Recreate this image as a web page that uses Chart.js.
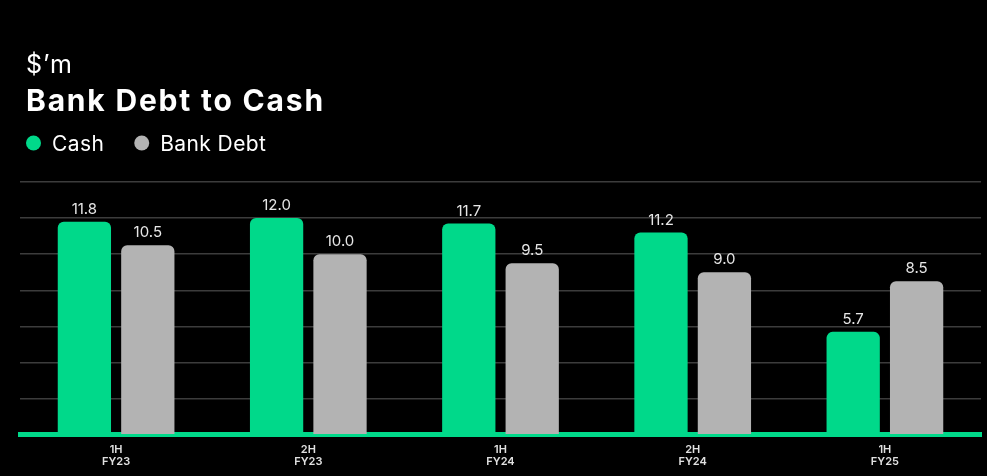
<!DOCTYPE html>
<html>
<head>
<meta charset="utf-8">
<script src="https://cdn.jsdelivr.net/npm/chart.js@4"></script>
<style>
  html, body { margin: 0; padding: 0; background: #000; }
  #wrap { width: 987px; height: 476px; position: relative; }
</style>
</head>
<body>
<div id="wrap"><canvas id="barChart"></canvas></div>
<script>
const unitLabel = '$\u2019m';
const chartTitle = 'Bank Debt to Cash';
const periods = [['1H', 'FY23'], ['2H', 'FY23'], ['1H', 'FY24'], ['2H', 'FY24'], ['1H', 'FY25']];
const cashValues = [11.8, 12.0, 11.7, 11.2, 5.7];
const bankDebtValues = [10.5, 10.0, 9.5, 9.0, 8.5];
const yMin = 0;
const yMax = 14;
const yStep = 2;

const green = '#00d98a';
const grey = '#b3b3b3';
const fontName = "Inter, 'Open Sans', sans-serif";

// draws the value above each bar
const valueLabels = {
    id: 'valueLabels',
    afterDatasetsDraw(chart) {
        const ctx = chart.ctx;
        ctx.save();
        ctx.font = '400 15px ' + fontName;
        ctx.fillStyle = '#e6e6e6';
        ctx.textAlign = 'center';
        ctx.textBaseline = 'bottom';
        chart.data.datasets.forEach((ds, i) => {
            chart.getDatasetMeta(i).data.forEach((bar, j) => {
                ctx.fillText(ds.data[j].toFixed(1), bar.x, bar.y - 5);
            });
        });
        ctx.restore();
    }
};

// unit, title and legend in the top left corner
const headerText = {
    id: 'headerText',
    afterDraw(chart) {
        const ctx = chart.ctx;
        ctx.save();
        ctx.textAlign = 'left';
        ctx.textBaseline = 'alphabetic';
        ctx.fillStyle = '#ffffff';
        ctx.letterSpacing = '1px';
        ctx.font = '400 25px ' + fontName;
        ctx.fillText(unitLabel, 26, 73);
        ctx.letterSpacing = '1.8px';
        ctx.font = '700 30px ' + fontName;
        ctx.fillText(chartTitle, 26, 111);

        ctx.letterSpacing = '0.4px';
        ctx.font = '400 21px ' + fontName;
        let x = 26;
        chart.data.datasets.forEach(ds => {
            ctx.fillStyle = ds.backgroundColor;
            ctx.beginPath();
            ctx.arc(x + 7.5, 143, 7.5, 0, Math.PI * 2);
            ctx.fill();
            ctx.fillStyle = '#ffffff';
            ctx.fillText(ds.label, x + 26, 151);
            x += 26 + ctx.measureText(ds.label).width + 30;
        });
        ctx.restore();
    }
};

const barChartConfig = {
    type: 'bar',
    data: {
        labels: periods,
        datasets: [{
            label: 'Cash',
            data: cashValues,
            backgroundColor: green,
            borderRadius: { topLeft: 6, topRight: 6 },
            borderSkipped: 'start'
        }, {
            label: 'Bank Debt',
            data: bankDebtValues,
            backgroundColor: grey,
            borderRadius: { topLeft: 6, topRight: 6 },
            borderSkipped: 'start'
        }]
    },
    options: {
        responsive: true,
        maintainAspectRatio: false,
        animation: false,
        datasets: {
            bar: { categoryPercentage: 0.66, barPercentage: 0.84 }
        },
        layout: { padding: { top: 182, left: 20, right: 6, bottom: 0 } },
        scales: {
            x: {
                grid: { display: false, drawTicks: false },
                border: { color: green, width: 5 },
                ticks: {
                    color: '#e0e0e0',
                    font: { family: fontName, size: 11, weight: '600', lineHeight: 1.1 },
                    padding: 8.5
                }
            },
            y: {
                min: yMin,
                max: yMax,
                ticks: { display: false, stepSize: yStep },
                border: { display: false },
                grid: { color: '#3c3c3c', lineWidth: 1.5, drawTicks: false }
            }
        },
        plugins: {
            legend: { display: false },
            title: { display: false },
            tooltip: { enabled: false }
        }
    },
    plugins: [valueLabels, headerText]
};

const ctx = document.getElementById('barChart').getContext('2d');
const myChart = new Chart(ctx, barChartConfig);
</script>
</body>
</html>
